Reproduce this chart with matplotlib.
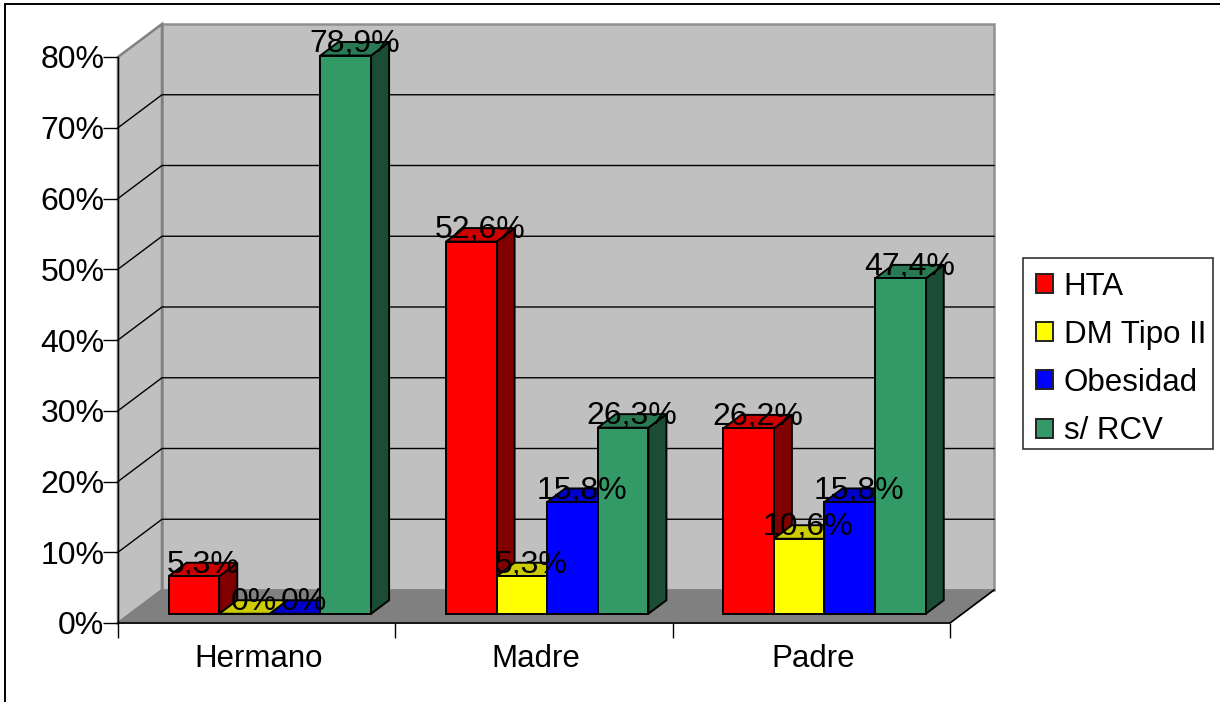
"""Family history of cardiovascular risk: 3D-look clustered columns."""
import matplotlib
matplotlib.use("Agg")
import matplotlib.pyplot as plt
from matplotlib.patches import Patch, Polygon, Rectangle

plt.rcParams.update({"font.family": ["Liberation Sans", "DejaVu Sans"], "font.size": 23})

relatives = ["Hermano", "Madre", "Padre"]
series_names = ["HTA", "DM Tipo II", "Obesidad", "s/ RCV"]
hta = [5.3, 52.6, 26.2]
dm_tipo2 = [0.0, 5.3, 10.6]
obesidad = [0.0, 15.8, 15.8]
sin_rcv = [78.9, 26.3, 47.4]
series_values = [hta, dm_tipo2, obesidad, sin_rcv]
value_labels = [["5,3%", "52,6%", "26,2%"], ["0%", "5,3%", "10,6%"],
                ["0%", "15,8%", "15,8%"], ["78,9%", "26,3%", "47,4%"]]
y_ticks = [0, 10, 20, 30, 40, 50, 60, 70, 80]

# front, top and side shades per series
front = ["#FF0000", "#FFFF00", "#0000FF", "#339966"]
top = ["#CC0000", "#CCCC00", "#0000CC", "#297A52"]
side = ["#800000", "#808000", "#000080", "#1A4D33"]

W, H = 1220, 702
fig = plt.figure(figsize=(W / 100, H / 100), dpi=100, facecolor="white")
L, R, T, B = 118, 950, 57, 623
ax = fig.add_axes([L / W, 1 - B / H, (R - L) / W, (B - T) / H])
ax.set_xlim(0, 3); ax.set_ylim(0, 80)
ax.patch.set_visible(False)

# outer frame
fig.add_artist(Rectangle((5 / W, -0.01), (W + 10) / W, 1.01 - 3.5 / H, transform=fig.transFigure,
                         fill=False, ec="black", lw=1.4))

# depth of the box in data units
DX = 44 / (R - L) * 3
DY = 33 / (B - T) * 80
ymax = y_ticks[-1]


def poly(pts, fc, ec="black", lw=1.0, z=1):
    ax.add_patch(Polygon(pts, closed=True, fc=fc, ec=ec, lw=lw, zorder=z, clip_on=False))


# walls and floor
poly([(DX, DY), (3 + DX, DY), (3 + DX, ymax + DY), (DX, ymax + DY)], "#C0C0C0", "#909090", 1.8)
poly([(0, 0), (DX, DY), (DX, ymax + DY), (0, ymax)], "#C0C0C0", "#808080", 1.8)
for v in y_ticks[1:-1]:
    ax.plot([0, DX, 3 + DX], [v, v + DY, v + DY], color="black", lw=1.0, zorder=2, clip_on=False)
poly([(0, 0), (3, 0), (3 + DX, DY), (DX, DY)], "#808080", "#808080", 1.0, 3)
ax.plot([0, 3, 3 + DX], [0, 0, DY], color="black", lw=1.2, zorder=3, clip_on=False)
ax.plot([0, 0], [0, ymax], color="black", lw=1.0, zorder=3, clip_on=False)

# columns sit in the middle of the box depth
bar_w = 0.1825
gap = (1 - bar_w * 4) / 2 + 0.003
z0, z1 = 0.28, 0.69
for j, vals in enumerate(series_values):
    for i, v in enumerate(vals):
        x0 = i + gap + j * bar_w + z0 * DX
        x1 = x0 + bar_w
        y0 = z0 * DY
        y1 = y0 + v
        ddx = (z1 - z0) * DX
        ddy = (z1 - z0) * DY
        z = 5 + i * 10 + j
        poly([(x1, y0), (x1 + ddx, y0 + ddy), (x1 + ddx, y1 + ddy), (x1, y1)], side[j], lw=1.4, z=z)
        poly([(x0, y1), (x1, y1), (x1 + ddx, y1 + ddy), (x0 + ddx, y1 + ddy)], top[j], lw=1.4, z=z)
        poly([(x0, y0), (x1, y0), (x1, y1), (x0, y1)], front[j], lw=1.4, z=z + 0.5)
        ax.text((x0 + x1) / 2 + ddx / 2, y1 + ddy - 0.3, value_labels[j][i], ha="center", va="center",
                color="black", zorder=100, clip_on=False)

ax.set_yticks(y_ticks, [f"{v}%" for v in y_ticks])
ax.set_xticks([0, 1, 2, 3], [])
ax.set_xticks([0.507, 1.507, 2.507], relatives, minor=True)
ax.tick_params(axis="y", length=11, width=1.0, pad=-1.2, labelsize=23)
ax.tick_params(axis="x", which="major", length=11, width=1.0)
ax.tick_params(axis="x", which="minor", length=0, pad=15, labelsize=22.5)
for s in ax.spines.values():
    s.set_visible(False)

# legend box drawn separately so its width stays fixed
fig.add_artist(Rectangle((1023 / W, 1 - 449 / H), 190 / W, 191 / H, transform=fig.transFigure,
                         fc="white", ec="#333333", lw=1.2))
handles = [Patch(fc=c, ec="#222222", lw=1.4) for c in front]
leg = fig.legend(handles, series_names, loc="upper left", bbox_to_anchor=(1022 / W, 1 - 258 / H),
                 borderaxespad=0, frameon=False,
                 fontsize=22.5, handlelength=0.56, handleheight=0.56, handletextpad=0.33,
                 labelspacing=0.58, borderpad=0.44)

fig.savefig("out.png", dpi=100)
